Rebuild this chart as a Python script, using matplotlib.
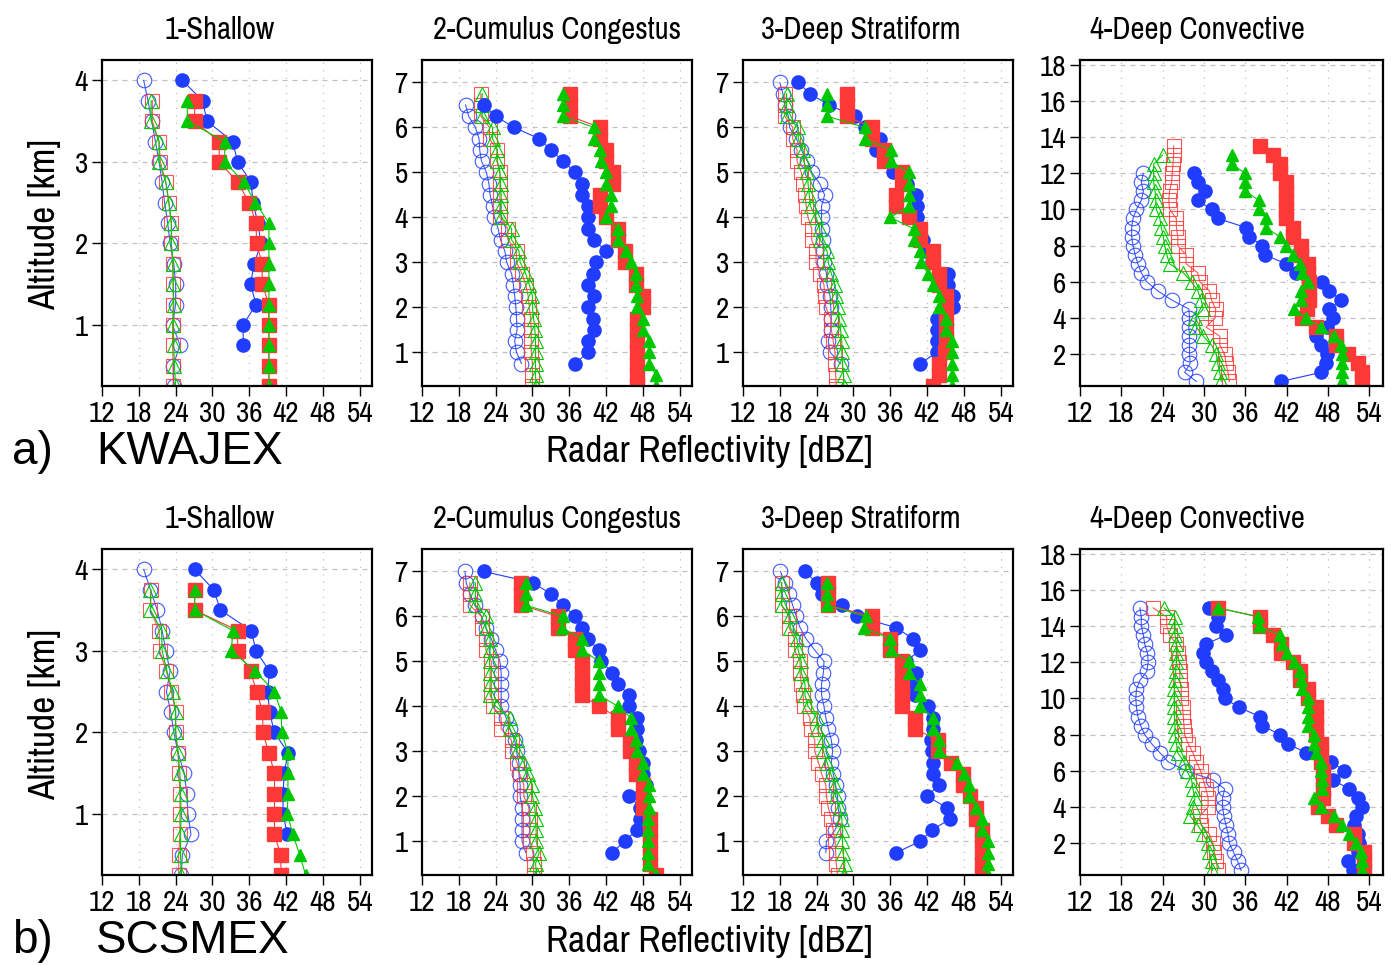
import numpy as np
import matplotlib
matplotlib.use('Agg')
from matplotlib import pyplot as plt
from matplotlib import font_manager
from matplotlib.font_manager import FontProperties

nan = np.nan

# ---------------- data (dBZ at each altitude level, top -> bottom) ----------------
titles = ['1-Shallow', '2-Cumulus Congestus', '3-Deep Stratiform', '4-Deep Convective']
campaigns = ['KWAJEX', 'SCSMEX']

z_shallow = [4.0, 3.75, 3.5, 3.25, 3.0, 2.75, 2.5, 2.25, 2.0, 1.75, 1.5, 1.25, 1.0, 0.75, 0.5, 0.25]
z_mid = [7.0, 6.75, 6.5, 6.25, 6.0, 5.75, 5.5, 5.25, 5.0, 4.75, 4.5, 4.25, 4.0, 3.75, 3.5,
         3.25, 3.0, 2.75, 2.5, 2.25, 2.0, 1.75, 1.5, 1.25, 1.0, 0.75, 0.5, 0.25]
z_deep = [15.0, 14.5, 14.0, 13.5, 13.0, 12.5, 12.0, 11.5, 11.0, 10.5, 10.0, 9.5, 9.0, 8.5, 8.0,
          7.5, 7.0, 6.5, 6.0, 5.5, 5.0, 4.5, 4.0, 3.5, 3.0, 2.5, 2.0, 1.5, 1.0, 0.5]

# KWAJEX
a1_ob = [18.8, 19.5, 20.1, 20.7, 21.3, 21.8, 22.2, 22.7, 23.1, 23.7, 24.0, 24.0, 23.5, 24.7, 23.6, 23.7]
a1_os = [nan, 20.2, 20.2, 21.3, 21.5, 22.4, 22.9, 23.3, 23.3, 23.5, 23.6, 23.6, 23.5, 23.5, 23.6, 23.6]
a1_ot = [nan, 20.0, 20.0, 21.3, 21.3, 22.4, 22.9, 23.3, 23.3, 23.6, 23.6, 23.7, 23.6, 23.7, 23.8, 24.0]
a1_fb = [25.1, 28.4, 29.1, 33.3, 34.1, 36.3, 36.6, 37.4, 37.9, 36.8, 36.2, 37.1, 35.0, 35.0, nan, nan]
a1_fs = [nan, 27.1, 27.1, 31.1, 31.1, 34.1, 36.0, 37.1, 37.2, 38.1, 38.1, 39.2, 39.2, 39.2, 39.2, 39.2]
a1_ft = [nan, 25.9, 25.9, 32.0, 32.0, 35.1, 37.0, 39.2, 39.2, 39.2, 39.2, 39.2, 39.2, 39.2, 39.2, 39.2]

a2_ob = [nan, nan, 19.1, 19.6, 20.7, 21.3, 21.4, 21.7, 22.5, 22.9, 23.1, 23.5, 23.8, 24.4, 24.8,
         25.5, 25.8, 26.6, 26.9, 27.1, 27.3, 27.4, 27.5, 27.1, 27.4, 28.2, nan, nan]
a2_os = [nan, 21.6, 21.6, 21.6, 23.0, 23.0, 24.2, 24.2, 24.7, 24.7, 24.7, 24.7, 24.7, 26.0, 26.0,
         27.4, 27.4, 28.3, 28.9, 29.3, 29.5, 29.7, 29.8, 29.8, 29.8, 30.0, 30.0, 30.0]
a2_ot = [nan, 21.8, 21.8, 21.8, 23.5, 23.5, 24.3, 24.3, 24.7, 24.8, 24.9, 24.9, 24.9, 26.6, 26.6,
         27.8, 28.0, 28.9, 29.5, 30.0, 30.0, 30.2, 30.4, 30.5, 30.5, 30.5, 30.5, 30.6]
a2_fb = [nan, nan, 22.1, 24.0, 27.0, 31.1, 33.0, 35.0, 37.0, 38.0, 38.0, 39.0, 39.0, 39.0, 40.0,
         42.0, 40.3, 39.9, 39.0, 40.0, 39.0, 39.9, 40.0, 39.0, 39.0, 37.0, nan, nan]
a2_fs = [nan, 36.1, 36.1, 36.1, 41.0, 41.0, 42.0, 42.0, 43.1, 43.1, 41.0, 41.0, 42.0, 43.9, 43.9,
         45.0, 45.0, 46.9, 46.9, 48.0, 48.0, 47.0, 47.0, 47.0, 47.0, 47.0, 47.0, 47.0]
a2_ft = [nan, 35.0, 35.0, 35.0, 40.0, 40.1, 41.0, 41.1, 42.0, 42.0, 42.8, 42.8, 42.0, 43.9, 43.9,
         45.3, 46.0, 46.9, 46.9, 47.0, 47.0, 48.0, 48.0, 49.0, 49.0, 49.0, 50.1, 50.1]

a3_ob = [18.0, 18.5, 18.8, 19.4, 19.6, 20.7, 21.5, 22.5, 23.2, 24.5, 25.3, 24.8, 24.8, 24.8, 25.0,
         25.1, 25.2, 25.6, 25.7, 26.2, 26.3, 26.4, 26.3, 25.9, 26.2, 27.9, nan, nan]
a3_os = [nan, 18.8, 18.8, 18.8, 20.1, 20.1, 20.8, 20.8, 21.5, 21.8, 22.1, 22.3, 22.6, 23.2, 23.2,
         23.9, 23.9, 24.5, 25.2, 25.3, 25.5, 26.3, 26.4, 26.7, 27.0, 27.0, 27.1, 27.2]
a3_ot = [nan, 19.1, 19.1, 19.1, 21.0, 21.0, 21.8, 21.9, 22.5, 22.6, 22.8, 23.0, 23.9, 24.5, 24.6,
         25.7, 25.9, 26.4, 27.0, 27.2, 27.4, 27.7, 27.9, 28.1, 28.1, 28.2, 28.4, 28.4]
a3_fb = [21.0, 22.9, 26.0, 30.2, 31.9, 34.3, 33.7, 35.4, 36.5, 38.7, 40.2, 40.3, 40.3, 40.9, 41.4,
         41.7, 42.8, 45.4, 45.4, 46.3, 46.3, 43.6, 43.6, 43.6, 43.6, 40.9, nan, nan]
a3_fs = [nan, 28.9, 28.9, 28.9, 33.0, 33.0, 34.9, 34.9, 37.9, 37.9, 37.0, 37.0, 39.0, 40.9, 40.9,
         43.0, 43.0, 44.0, 44.0, 45.1, 45.1, 45.1, 45.1, 45.1, 45.0, 43.9, 43.9, 42.9]
a3_ft = [nan, 25.7, 25.7, 25.7, 31.8, 31.8, 36.1, 36.1, 39.0, 39.0, 39.0, 39.0, 36.0, 39.8, 39.8,
         40.9, 41.0, 42.1, 42.9, 44.0, 44.0, 45.1, 45.1, 46.1, 46.1, 46.1, 46.1, 46.1]

a4_ob = [nan, nan, nan, nan, nan, nan, 21.2, 20.9, 21.2, 20.9, 20.2, 19.7, 19.5, 19.5, 19.7,
         20.0, 20.4, 20.9, 21.7, 23.3, 25.3, 27.8, 27.9, 27.8, 27.9, 27.9, 27.9, 28.0, 27.2, 28.9]
a4_os = [nan, nan, nan, 25.6, 25.6, 25.5, 25.4, 25.3, 25.0, 24.9, 25.0, 26.0, 26.0, 26.2, 26.2,
         27.4, 27.4, 29.1, 29.4, 30.8, 31.1, 31.7, 31.6, 30.3, 32.3, 32.3, 33.0, 33.2, 33.5, 33.7]
a4_ot = [nan, nan, nan, nan, 24.0, 22.7, 22.7, 22.7, 22.9, 23.0, 23.1, 23.6, 23.8, 24.1, 24.3,
         24.6, 25.0, 27.0, 28.2, 29.1, 29.6, 29.9, 28.7, 28.9, 29.9, 31.1, 31.8, 32.0, 32.3, 32.5]
a4_fb = [nan, nan, nan, nan, nan, nan, 28.5, 29.1, 30.1, 29.1, 31.1, 32.0, 36.1, 36.6, 38.5,
         38.8, 41.9, 43.4, 47.2, 48.2, 49.9, 48.2, 48.7, 47.9, 46.3, 47.0, 47.9, 47.7, 47.0, 41.2]
a4_fs = [nan, nan, nan, 38.1, 40.0, 41.0, 41.0, 41.9, 41.9, 41.9, 41.9, 41.9, 42.9, 42.9, 44.1,
         44.1, 45.1, 45.1, 45.3, 45.3, 45.3, 45.0, 44.3, 46.3, 49.2, 49.2, 50.9, 52.3, 53.0, 53.0]
a4_ft = [nan, nan, nan, nan, 34.0, 34.0, 36.0, 36.0, 36.0, 38.0, 38.0, 39.0, 39.0, 41.0, 41.9,
         42.9, 43.9, 44.3, 45.1, 44.1, 44.1, 43.1, 44.8, 47.0, 48.9, 49.9, 50.1, 50.1, 50.1, 50.1]

# SCSMEX
b1_ob = [18.8, 19.9, 21.0, 21.8, 22.4, 23.1, 22.5, 23.2, 23.7, 24.4, 25.4, 25.8, 26.0, 26.5, 25.1, 24.9]
b1_os = [nan, 20.0, 19.9, 21.3, 21.4, 22.5, 23.3, 24.0, 24.0, 24.4, 24.5, 24.7, 24.7, 24.7, 24.5, 24.5]
b1_ot = [nan, 19.9, 19.9, 21.7, 21.8, 22.6, 23.5, 24.0, 24.0, 24.4, 24.7, 24.8, 24.9, 24.8, 24.8, 24.9]
b1_fb = [27.1, 30.2, 31.3, 36.3, 37.1, 39.3, 39.0, 39.3, 40.1, 42.3, 41.7, 41.5, 41.5, 42.2, nan, nan]
b1_fs = [nan, 27.1, 27.1, 34.1, 34.1, 36.2, 37.2, 38.2, 38.2, 39.2, 40.1, 40.1, 40.1, 40.1, 41.1, 41.2]
b1_ft = [nan, 27.1, 27.1, 33.3, 33.1, 37.0, 40.1, 41.2, 41.3, 42.3, 42.3, 42.3, 42.2, 43.1, 44.2, 45.2]

b2_ob = [19.0, 19.2, 19.8, 20.6, 21.7, 22.4, 23.3, 24.0, 24.7, 24.9, 24.9, 24.9, 24.9, 25.7, 26.3,
         27.1, 27.4, 27.8, 27.8, 28.0, 28.0, 28.3, 28.3, 28.3, 28.3, 28.9, nan, nan]
b2_os = [nan, 19.8, 19.8, 19.8, 21.7, 21.7, 22.4, 22.4, 23.3, 23.3, 23.3, 23.3, 23.5, 24.9, 24.9,
         26.6, 26.6, 27.5, 27.9, 28.6, 28.6, 29.4, 29.6, 29.6, 29.6, 30.1, 30.2, 30.2]
b2_ot = [nan, 20.7, 20.7, 20.7, 22.5, 22.4, 23.1, 23.1, 23.0, 23.1, 23.1, 23.1, 24.0, 26.3, 26.3,
         27.4, 27.5, 28.6, 29.3, 30.0, 30.0, 30.4, 30.5, 30.6, 30.6, 31.1, 30.5, 30.7]
b2_fb = [22.1, 30.1, 33.0, 35.0, 37.0, 38.0, 39.0, 40.9, 41.2, 43.0, 43.9, 45.8, 45.8, 47.0, 47.0,
         46.9, 47.4, 48.0, 48.0, 48.5, 45.8, 47.6, 47.6, 47.0, 45.0, 43.0, nan, nan]
b2_fs = [nan, 28.2, 28.2, 28.2, 34.2, 34.2, 37.0, 37.0, 38.0, 38.0, 38.0, 38.0, 40.9, 43.9, 43.9,
         45.9, 45.9, 46.9, 46.9, 48.0, 48.0, 48.0, 49.1, 49.1, 49.1, 49.1, 49.1, 50.2]
b2_ft = [nan, 28.9, 28.9, 28.9, 35.0, 34.8, 38.1, 38.1, 40.9, 40.9, 40.9, 40.9, 43.9, 46.0, 46.0,
         46.9, 47.0, 48.0, 48.0, 49.0, 49.0, 49.0, 48.8, 48.8, 48.8, 48.8, 48.8, 50.1]

b3_ob = [18.1, 18.8, 19.5, 20.1, 20.7, 21.3, 22.3, 23.7, 25.2, 25.1, 24.8, 24.8, 25.2, 25.5, 25.9,
         26.4, 26.6, 26.4, 26.7, 27.1, 27.4, 27.5, 27.8, 27.0, 25.6, 25.5, nan, nan]
b3_os = [nan, 18.3, 18.3, 18.3, 19.5, 19.5, 20.4, 20.4, 21.3, 21.3, 21.5, 21.8, 21.9, 22.9, 23.0,
         23.7, 23.7, 24.3, 24.8, 25.5, 25.6, 25.9, 26.4, 26.7, 27.0, 27.1, 27.2, 27.4]
b3_ot = [nan, 18.3, 18.3, 18.3, 19.7, 19.7, 20.8, 21.0, 21.5, 21.5, 22.1, 22.1, 22.6, 24.0, 24.1,
         25.0, 25.1, 25.7, 26.3, 27.0, 27.1, 27.8, 28.1, 28.2, 28.2, 28.3, 28.6, 28.4]
b3_fb = [22.1, 24.0, 24.8, 28.2, 30.5, 37.0, 39.7, 40.9, 38.5, 40.2, 39.8, 40.1, 42.1, 43.0, 43.0,
         42.6, 42.8, 43.0, 43.0, 43.9, 42.0, 45.2, 45.8, 42.8, 40.9, 37.0, nan, nan]
b3_fs = [nan, 25.9, 25.9, 25.9, 33.0, 33.0, 36.0, 36.0, 37.9, 37.9, 37.9, 37.9, 37.9, 40.0, 40.0,
         43.8, 43.8, 45.9, 47.9, 47.9, 49.0, 50.0, 50.0, 50.9, 50.9, 50.9, 50.9, 50.9]
b3_ft = [nan, 25.7, 25.7, 25.7, 32.0, 31.7, 36.0, 36.1, 39.0, 39.0, 40.9, 40.9, 40.9, 43.0, 43.0,
         43.9, 43.9, 46.9, 48.0, 48.9, 48.9, 50.0, 50.9, 50.9, 52.0, 51.9, 52.0, 52.0]

b4_ob = [20.7, 20.9, 20.9, 21.2, 21.4, 21.8, 21.9, 21.7, 20.7, 20.2, 20.1, 20.2, 20.4, 20.8, 21.4,
         22.4, 23.6, 24.8, 27.4, 31.3, 33.0, 32.7, 32.7, 32.9, 33.2, 33.5, 33.7, 34.3, 34.9, 35.4]
b4_os = [22.6, 24.6, 24.6, 25.0, 26.0, 26.2, 26.4, 26.5, 26.5, 26.7, 26.7, 26.9, 27.0, 27.1, 27.2,
         27.7, 28.4, 28.9, 29.5, 29.9, 30.3, 30.6, 30.6, 29.4, 29.6, 30.8, 31.3, 31.5, 31.8, 32.0]
b4_ot = [24.2, 25.8, 25.8, 25.8, 26.0, 26.0, 26.0, 25.9, 25.8, 25.7, 25.7, 25.7, 25.7, 25.8, 25.8,
         26.0, 26.2, 27.1, 27.5, 28.2, 28.4, 28.7, 28.4, 28.0, 29.1, 29.9, 30.6, 30.8, 31.1, 31.2]
b4_fb = [30.8, 32.0, 31.8, 33.2, 30.3, 29.8, 30.3, 31.1, 32.0, 32.8, 33.0, 35.1, 38.1, 38.5, 41.0,
         42.2, 44.8, 48.4, 50.4, 48.7, 51.1, 52.3, 53.0, 52.1, 51.8, 52.3, 52.5, 52.3, 50.9, 51.6]
b4_fs = [32.0, 38.1, 38.1, 40.0, 41.2, 41.2, 42.9, 43.9, 43.9, 45.1, 45.1, 46.3, 46.3, 46.3, 46.3,
         47.0, 47.0, 47.0, 47.3, 47.3, 47.3, 47.3, 46.5, 48.0, 49.2, 51.8, 51.8, 53.3, 53.3, 53.3]
b4_ft = [32.0, 37.9, 38.0, 41.0, 41.4, 42.0, 43.1, 44.0, 44.1, 44.2, 45.1, 45.1, 45.1, 45.1, 46.0,
         46.0, 46.2, 47.0, 47.0, 47.1, 47.1, 46.0, 47.0, 48.9, 50.1, 51.1, 52.1, 52.8, 53.0, 53.0]

xticks = [12, 18, 24, 30, 36, 42, 48, 54]


# ---------------- fonts: look for a narrow / condensed sans face ----------------
def pick_condensed():
    best, best_rank = None, 99
    for f in font_manager.fontManager.ttflist:
        name = f.name.lower()
        fn = f.fname.lower().replace('-', '').replace('_', '')
        if f.style != 'normal' or 'mono' in name or 'serif' in name.replace('sans', ''):
            continue
        try:
            w = int(f.weight)
        except (TypeError, ValueError):
            w = 400
        if w not in (300, 400):
            continue
        st = str(f.stretch)
        if 'narrow' in name or 'narrow' in fn:
            rank = 0
        elif 'semicondensed' in fn or st == 'semi-condensed':
            rank = 4
        elif 'extracondensed' in fn or st == 'extra-condensed':
            rank = 3
        elif 'condensed' in name or 'condensed' in fn or st == 'condensed':
            rank = 1
        else:
            continue
        if w == 300:
            rank -= 0.5
        if rank < best_rank:
            best, best_rank = f.fname, rank
    return best


cond_file = pick_condensed()
installed = {f.name for f in font_manager.fontManager.ttflist}
WIDE = 'Liberation Sans' if 'Liberation Sans' in installed else 'DejaVu Sans'
scale = 1.0 if cond_file else 0.8


def narrow_fp(size):
    if cond_file:
        return FontProperties(fname=cond_file, size=size)
    return FontProperties(family='DejaVu Sans', size=size * scale)


BLUE = '#1f3cff'
RED = '#ff3838'
GREEN = '#00c800'

W, H = 1391, 965
fig = plt.figure(figsize=(W / 100, H / 100), dpi=100)
fig.patch.set_facecolor('white')


def add_ax(left, top, width, height):
    return fig.add_axes([left / W, 1 - (top + height) / H, width / W, height / H])


def draw_panel(ax, z, ob, osq, ot, fb, fs, ft, yticks, ylim):
    ax.plot(ob, z, '-o', color=BLUE, mfc='none', mec=BLUE, ms=10.5, mew=0.8, lw=0.8, alpha=0.85)
    ax.plot(osq, z, '-s', color=RED, mfc='none', mec=RED, ms=10.5, mew=0.8, lw=0.8, alpha=0.85)
    ax.plot(ot, z, '-^', color=GREEN, mfc='none', mec=GREEN, ms=9.5, mew=0.8, lw=0.8)
    ax.plot(fb, z, '-o', color=BLUE, mfc=BLUE, mec=BLUE, ms=9.5, lw=0.8)
    ax.plot(fs, z, '-s', color=RED, mfc=RED, mec=RED, ms=10.5, lw=0.8)
    ax.plot(ft, z, '-^', color=GREEN, mfc=GREEN, mec=GREEN, ms=8.5, lw=0.8)

    ax.set_xlim(12, 56)
    ax.set_ylim(*ylim)
    ax.set_xticks(xticks)
    ax.set_yticks(yticks)
    ax.grid(axis='x', ls=(0, (1, 5)), color='#c0c0c0', lw=0.9)
    ax.grid(axis='y', ls=(0, (4, 4)), color='#c0c0c0', lw=0.9)
    ax.set_axisbelow(True)
    ax.tick_params(direction='out', length=7, width=1, pad=3)
    for lab in ax.get_xticklabels() + ax.get_yticklabels():
        lab.set_fontproperties(narrow_fp(21))
    for s in ax.spines.values():
        s.set_linewidth(1.6)


rows = [
    (60, [(a1_ob, a1_os, a1_ot, a1_fb, a1_fs, a1_ft),
          (a2_ob, a2_os, a2_ot, a2_fb, a2_fs, a2_ft),
          (a3_ob, a3_os, a3_ot, a3_fb, a3_fs, a3_ft),
          (a4_ob, a4_os, a4_ot, a4_fb, a4_fs, a4_ft)]),
    (549, [(b1_ob, b1_os, b1_ot, b1_fb, b1_fs, b1_ft),
           (b2_ob, b2_os, b2_ot, b2_fb, b2_fs, b2_ft),
           (b3_ob, b3_os, b3_ot, b3_fb, b3_fs, b3_ft),
           (b4_ob, b4_os, b4_ot, b4_fb, b4_fs, b4_ft)]),
]

panel_left = [102, 422, 743, 1080]
panel_width = [270, 270, 270, 303]
title_x = [220, 557, 861, 1197]
z_levels = [z_shallow, z_mid, z_mid, z_deep]
y_ticks = [[1, 2, 3, 4], [1, 2, 3, 4, 5, 6, 7], [1, 2, 3, 4, 5, 6, 7],
           [2, 4, 6, 8, 10, 12, 14, 16, 18]]
y_lims = [(0.25, 4.25), (0.25, 7.5), (0.25, 7.5), (0.25, 18.25)]
letters = ['a)', 'b)']

for r, (top, series) in enumerate(rows):
    for i in range(4):
        ax = add_ax(panel_left[i], top, panel_width[i], 326)
        draw_panel(ax, z_levels[i], *series[i], y_ticks[i], y_lims[i])
        fig.text(title_x[i] / W, 1 - (top - 30) / H, titles[i], ha='center', va='center',
                 fontproperties=narrow_fp(22))
    fig.text(45 / W, 1 - (top + 165) / H, 'Altitude [km]', rotation=90, ha='center',
             va='center', fontproperties=narrow_fp(27))
    fig.text(709 / W, 1 - (top + 392) / H, 'Radar Reflectivity [dBZ]', ha='center',
             va='center', fontproperties=narrow_fp(27))
    fig.text(12 / W, 1 - (top + 392) / H, letters[r], ha='left', va='center',
             fontsize=33, family=WIDE)
    fig.text(96 / W, 1 - (top + 392) / H, campaigns[r], ha='left', va='center',
             fontsize=33, family=WIDE)

fig.savefig('out.png', dpi=100, facecolor='white')
